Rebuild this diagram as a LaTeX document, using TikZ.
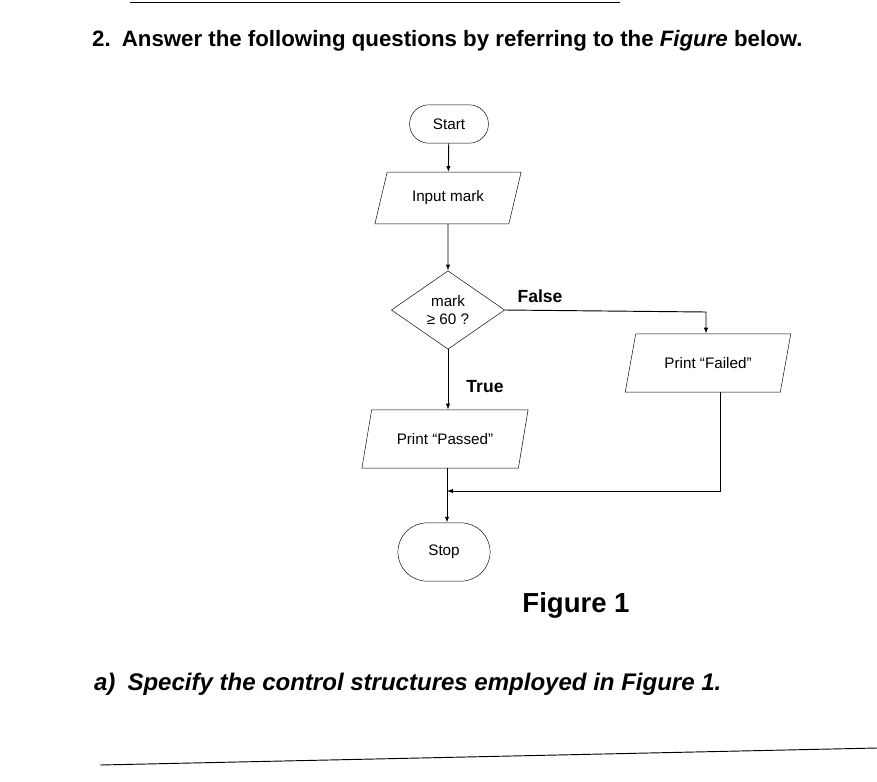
\documentclass[tikz,border=0pt]{standalone}
\usepackage{fontspec}
\setmainfont{Liberation Sans}
\usetikzlibrary{shapes.geometric,shapes.misc,arrows.meta}
\tikzset{
  chart/.style={font=\fontsize{13}{15}\selectfont},
  term/.style={draw, rounded rectangle, minimum width=2.6cm, minimum height=1.15cm, chart},
  io/.style={draw, trapezium, trapezium left angle=70, trapezium right angle=110, minimum width=3.6cm, minimum height=1.55cm, chart, trapezium stretches=true},
  decide/.style={draw, diamond, aspect=1.45, minimum width=3.4cm, minimum height=2.35cm, chart, align=center, inner sep=0pt},
  flow/.style={-{Latex[length=5pt]}, thick}
}
\begin{document}
\begin{tikzpicture}[x=0.03cm,y=-0.03cm]
  \useasboundingbox (0,0) rectangle (877,781);
  % heading
  \draw[thick] (130,2) -- (620,2);
  \node[anchor=base west, font=\bfseries\fontsize{19}{22}\selectfont] (q) at (88,46)
    {2.\enspace Answer the following questions by referring to the \textit{Figure} below.};

  % flowchart
  \node[term] (start) at (449,124) {Start};
  \node[io, minimum width=4.4cm] (inp) at (448,198) {Input mark};
  \node[decide] (dec) at (448,310) {mark\\≥ 60 ?};
  \node[io, minimum width=5cm, minimum height=1.75cm] (fail) at (708,363) {Print ``Failed''};
  \node[io, minimum width=5cm, minimum height=1.75cm] (pass) at (445,439) {Print ``Passed''};
  \node[term, minimum width=3cm, minimum height=1.75cm] (stop) at (444,552) {Stop};
  \coordinate (turn) at (706,312);
  \coordinate (back) at (720,491);
  \coordinate (join) at (447,491);

  \draw[flow] (start) -- (inp);
  \draw[flow] (inp) -- (dec);
  \draw[flow] (dec.east) -- (turn) -- (fail.north -| turn);
  \draw[flow] (dec.south) -- (pass.north -| dec.south);
  \draw[flow] (pass.south -| join) -- (stop.north -| join);
  \draw[flow] (fail.south -| back) -- (back) -- (join);

  \node[font=\bfseries\fontsize{15}{18}\selectfont] (flabel) at (540,296) {False};
  \node[font=\bfseries\fontsize{15}{18}\selectfont] (tlabel) at (485,387) {True};

  % caption and question
  \node[font=\bfseries\fontsize{23.5}{27}\selectfont] (cap) at (576,605) {Figure 1};
  \node[anchor=base west, font=\bfseries\itshape\fontsize{20.5}{24}\selectfont] (qa) at (90,690)
    {a)\enspace Specify the control structures employed in Figure 1.};
  \draw[thick] (100,765) -- (877,748);
\end{tikzpicture}
\end{document}
